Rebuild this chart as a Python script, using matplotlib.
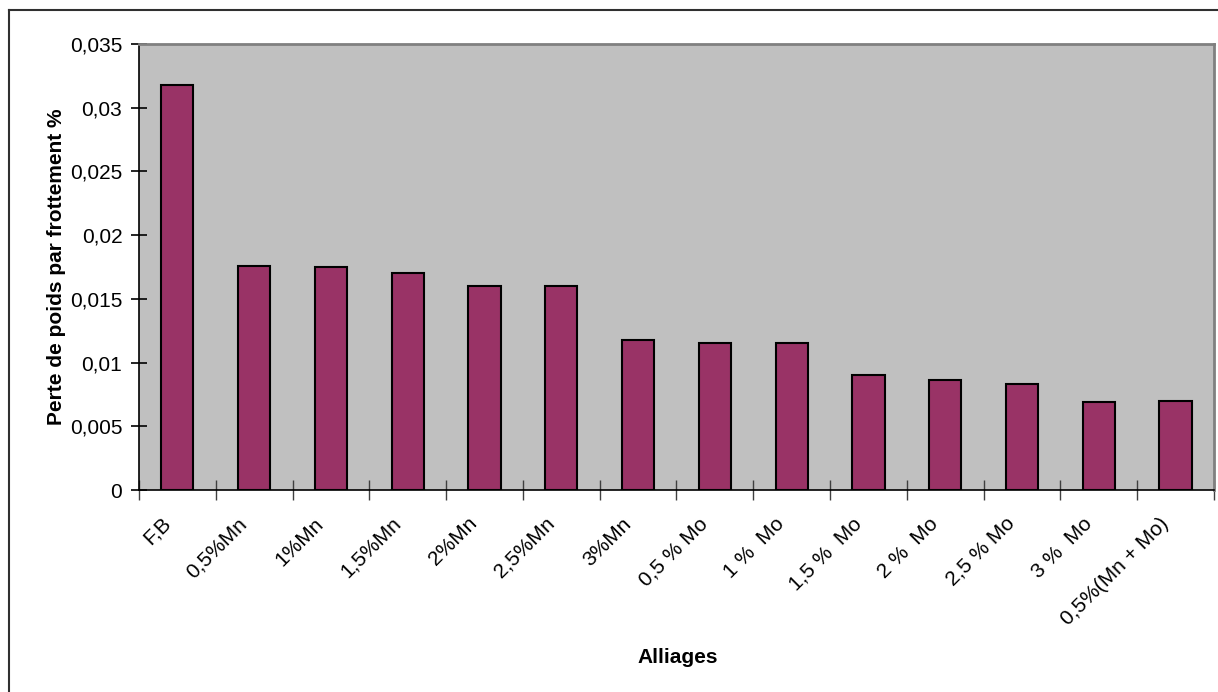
import numpy as np
import matplotlib.pyplot as plt
from matplotlib.lines import Line2D
from matplotlib.ticker import FuncFormatter, FixedLocator
from matplotlib.transforms import ScaledTranslation

# alliages et perte de poids par frottement
alliages = ['F,B', '0,5%Mn', '1%Mn', '1,5%Mn', '2%Mn', '2,5%Mn', '3%Mn',
            '0,5 % Mo', '1 %  Mo', '1,5 %  Mo', '2 %  Mo', '2,5 % Mo',
            '3 %  Mo', '0,5%(Mn + Mo)']
perte = [0.0318, 0.0176, 0.0175, 0.0170, 0.0160, 0.0160, 0.0118,
         0.0115, 0.0115, 0.0090, 0.0086, 0.0083, 0.0069, 0.0070]
y_ticks = [0, 0.005, 0.01, 0.015, 0.02, 0.025, 0.03, 0.035]

plt.rcParams['font.family'] = ['Liberation Sans', 'DejaVu Sans']

fig = plt.figure(figsize=(12.18, 6.92), dpi=100)
ax = fig.add_axes([0.1141, 0.2919, 0.9967 - 0.1141, 0.9364 - 0.2919])
ax.set_facecolor('#C0C0C0')

x = np.arange(len(alliages))
ax.bar(x, perte, width=0.42, color='#993366', edgecolor='black', linewidth=1.5)

ax.set_xlim(-0.5, len(alliages) - 0.5)
ax.set_ylim(0, 0.035)

# y axis with comma decimals
ax.yaxis.set_major_locator(FixedLocator(y_ticks))
ax.yaxis.set_major_formatter(FuncFormatter(lambda v, p: f'{v:g}'.replace('.', ',')))
ax.tick_params(axis='y', direction='inout', length=12, width=1.2, labelsize=15, pad=6)

# category ticks between bars, labels centred under bars
ax.set_xticks(np.arange(len(alliages) + 1) - 0.5)
ax.set_xticklabels([])
ax.set_xticks(x, minor=True)
ax.set_xticklabels(alliages, minor=True, rotation=45, ha='right', va='center',
                   rotation_mode='anchor', fontsize=15)
ax.tick_params(axis='x', which='major', direction='inout', length=14, width=1.0,
               color='#404040')
ax.tick_params(axis='x', which='minor', length=0, pad=22)
shift = ScaledTranslation(-10 / 100, 0, fig.dpi_scale_trans)
for lab in ax.get_xticklabels(minor=True):
    lab.set_transform(lab.get_transform() + shift)

for side in ['left', 'bottom']:
    ax.spines[side].set_color('black')
    ax.spines[side].set_linewidth(1.2)
for side in ['top', 'right']:
    ax.spines[side].set_color('#808080')
    ax.spines[side].set_linewidth(2)

ax.set_ylabel('Perte de poids par frottement %', fontsize=15, fontweight='bold')
ax.yaxis.set_label_coords(-0.068, 0.5)
ax.set_xlabel('Alliages', fontsize=15, fontweight='bold')
ax.xaxis.set_label_coords(0.501, -0.355)

# chart area border
fig.add_artist(Line2D([9 / 1218, 9 / 1218], [0, 1 - 10 / 692],
                      transform=fig.transFigure, color='#303030', linewidth=1.5))
fig.add_artist(Line2D([9 / 1218, 1], [1 - 10 / 692, 1 - 10 / 692],
                      transform=fig.transFigure, color='#303030', linewidth=1.5))

fig.savefig('out.png', dpi=100)
